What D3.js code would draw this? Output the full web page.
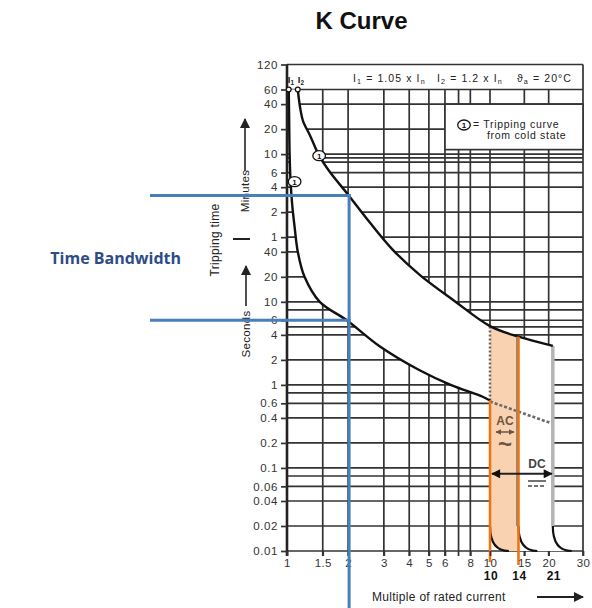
<!DOCTYPE html>
<html><head><meta charset="utf-8">
<script src="https://cdn.jsdelivr.net/npm/d3@7"></script>
<style>body{margin:0;background:#fff} svg{display:block}</style>
</head><body>
<script>
// ---------- data ----------
const minuteTicks = [120, 60, 40, 20, 10, 6, 4, 2, 1];
const secondTicks = [40, 20, 10, 6, 4, 2, 1, 0.6, 0.4, 0.2, 0.1, 0.06, 0.04, 0.02, 0.01];
const extraGridMinutes = [9, 8];
const extraGridSeconds = [8, 5, 0.8, 0.08];
const xTicks = [1, 1.5, 2, 3, 4, 5, 6, 8, 10, 15, 20, 30];
const xGrid = [1.5, 2, 3, 4, 5, 6, 7, 8, 10, 15, 20];
const limitLabels = [10, 14, 21];

// upper tripping curve (I2 side), multiple of In vs seconds
const upperX = [1.13, 1.16, 1.2, 1.3, 1.44, 1.62, 2.0, 2.56, 3.33, 4.52, 6.56, 10, 14, 21];
const upperT = [3600, 2200, 1500, 1000, 575, 370, 195, 90, 42, 21, 10.6, 5.1, 3.8, 2.95];
// lower tripping curve (I1 side)
const lowerX = [1.02, 1.025, 1.03, 1.04, 1.06, 1.09, 1.13, 1.22, 1.45, 1.97, 2.87, 4.5, 6.4, 9.2, 10];
const lowerT = [3600, 1500, 600, 300, 150, 80, 40, 20, 10, 6, 2.9, 1.5, 1.0, 0.72, 0.65];

const acRange = [10, 14];
const dcLimit = 21;
const dashedX = [10, 21];
const dashedT = [0.63, 0.34];
const dcArrowT = 0.085;
const markerX = [1.09, 1.44];
const markerT = [280, 575];
const bandX = 2;          // "Time Bandwidth" reading
const bandT = [190, 6];

// ---------- setup ----------
const W = 592, H = 608;
const FONT = "'Liberation Sans', Arial, sans-serif";
const svg = d3.select("body").append("svg").attr("width", W).attr("height", H);

const x = d3.scaleLog().domain([1, 10, 30]).range([287, 490, 583]);
const y = d3.scaleLog().domain([0.01, 7200]).range([551, 64.5]);

const defs = svg.append("defs");
function arrow(id, color, w, h) {
  defs.append("marker").attr("id", id).attr("viewBox", "0 0 10 10")
    .attr("refX", 9).attr("refY", 5).attr("markerUnits", "userSpaceOnUse")
    .attr("markerWidth", w).attr("markerHeight", h).attr("orient", "auto-start-reverse")
    .append("path").attr("d", "M0,0L10,5L0,10z").attr("fill", color);
}
arrow("ab", "#111", 11, 9);
arrow("ac", "#6e5440", 6, 6);
arrow("ak", "#222", 12, 10);

// title
svg.append("text").attr("x", 361.5).attr("y", 29).attr("text-anchor", "middle")
  .attr("font-family", FONT).attr("font-weight", "bold").attr("font-size", 24)
  .attr("fill", "#111").text("K Curve");

const gridColor = "#333";
const yTop = y(7200), yBot = y(0.01), xLeft = x(1), xRight = x(30);

const hGrid = minuteTicks.concat(extraGridMinutes).map(m => m * 60).concat(secondTicks, extraGridSeconds);
svg.append("g").selectAll("line").data(hGrid).join("line")
  .attr("x1", xLeft).attr("x2", xRight).attr("y1", d => y(d)).attr("y2", d => y(d))
  .attr("stroke", gridColor).attr("stroke-width", 1.7);
svg.append("g").selectAll("line").data(xGrid).join("line")
  .attr("x1", d => x(d)).attr("x2", d => x(d)).attr("y1", y(3600)).attr("y2", yBot + 5)
  .attr("stroke", gridColor).attr("stroke-width", 1.7);
svg.append("line").attr("x1", xRight).attr("x2", xRight).attr("y1", yTop).attr("y2", yBot + 5)
  .attr("stroke", gridColor).attr("stroke-width", 1.7);

// legend box
svg.append("rect").attr("x", x(6)).attr("y", y(2400)).attr("width", xRight - x(6))
  .attr("height", y(680) - y(2400)).attr("fill", "#fff").attr("stroke", gridColor).attr("stroke-width", 1.7);

// ---------- band between curves ----------
const upperPts = upperX.map((v, i) => [v, upperT[i]]);
const lowerPts = lowerX.map((v, i) => [v, lowerT[i]]);
const lineGen = d3.line().x(d => x(d[0])).y(d => y(d[1])).curve(d3.curveCatmullRom.alpha(0.5));
const spread = 1.25;
const lowEnd = lowerT[lowerT.length - 1];
const bandPath = lineGen(upperPts)
  + `L${x(dcLimit)},${y(0.02)}Q${x(dcLimit)},${y(0.01)} ${x(dcLimit * spread)},${y(0.01)}`
  + `L${x(acRange[0] * spread)},${y(0.01)}Q${x(acRange[0])},${y(0.01)} ${x(acRange[0])},${y(0.02)}`
  + `L${x(acRange[0])},${y(lowEnd)}`
  + lineGen(lowerPts.slice().reverse()).replace(/^M/, "L") + "Z";
defs.append("clipPath").attr("id", "band").append("path").attr("d", bandPath);
svg.append("path").attr("d", bandPath).attr("fill", "#fff");
svg.append("rect").attr("x", x(acRange[0])).attr("y", yTop).attr("width", x(acRange[1]) - x(acRange[0]))
  .attr("height", yBot - yTop).attr("fill", "#F9D2B1").attr("clip-path", "url(#band)");

// dashed continuation and dotted vertical
svg.append("line").attr("x1", x(dashedX[0])).attr("y1", y(dashedT[0])).attr("x2", x(dashedX[1])).attr("y2", y(dashedT[1]))
  .attr("stroke", "#6a6a6a").attr("stroke-width", 2.6).attr("stroke-dasharray", "3,2");
svg.append("line").attr("x1", x(acRange[0])).attr("x2", x(acRange[0])).attr("y1", y(lowEnd)).attr("y2", y(upperT[upperX.indexOf(10)]))
  .attr("stroke", "#6a6a6a").attr("stroke-width", 2.6).attr("stroke-dasharray", "2,2");

// DC limit grey line
svg.append("line").attr("x1", x(dcLimit)).attr("x2", x(dcLimit)).attr("y1", y(upperT[upperT.length - 1])).attr("y2", y(0.02))
  .attr("stroke", "#b4b4b4").attr("stroke-width", 3.5);
// bottom bends
svg.append("g").selectAll("path").data([acRange[0], acRange[1], dcLimit]).join("path")
  .attr("d", v => `M${x(v)},${y(0.02)}Q${x(v)},${y(0.01)} ${x(v * spread)},${y(0.01)}`)
  .attr("fill", "none").attr("stroke", "#111").attr("stroke-width", 2.2);

// curves
svg.append("path").attr("d", lineGen(upperPts)).attr("fill", "none").attr("stroke", "#111").attr("stroke-width", 2.4);
svg.append("path").attr("d", lineGen(lowerPts)).attr("fill", "none").attr("stroke", "#111").attr("stroke-width", 2.4);

// AC orange lines
svg.append("line").attr("x1", x(acRange[1]) - 1.5).attr("x2", x(acRange[1]) - 1.5).attr("y1", y(upperT[upperX.indexOf(14)])).attr("y2", y(0.02))
  .attr("stroke", "#8a8a8a").attr("stroke-width", 2);
svg.append("line").attr("x1", x(acRange[0])).attr("x2", x(acRange[0])).attr("y1", y(lowEnd)).attr("y2", yBot + 11)
  .attr("stroke", "#EF7412").attr("stroke-width", 2.6);
svg.append("line").attr("x1", x(acRange[1])).attr("x2", x(acRange[1])).attr("y1", y(upperT[upperX.indexOf(14)])).attr("y2", yBot + 14)
  .attr("stroke", "#EF7412").attr("stroke-width", 2.6);

// left axis line
svg.append("line").attr("x1", xLeft).attr("x2", xLeft).attr("y1", yTop).attr("y2", yBot + 5)
  .attr("stroke", "#222").attr("stroke-width", 2.6);

// curve top circles
svg.append("g").selectAll("circle").data([lowerPts[0], upperPts[0]]).join("circle")
  .attr("cx", d => x(d[0])).attr("cy", d => y(d[1])).attr("r", 2.4)
  .attr("fill", "#fff").attr("stroke", "#111").attr("stroke-width", 1.2);

// ① markers
function circ1(cx, cy) {
  const g = svg.append("g");
  g.append("ellipse").attr("cx", cx).attr("cy", cy).attr("rx", 6.3).attr("ry", 5)
    .attr("fill", "#fff").attr("stroke", "#111").attr("stroke-width", 1.3);
  g.append("text").attr("x", cx).attr("y", cy + 3).attr("text-anchor", "middle")
    .attr("font-family", FONT).attr("font-size", 8).attr("font-weight", "bold").attr("fill", "#111").text("1");
}
markerX.forEach((v, i) => circ1(x(v), y(markerT[i])));
circ1(464, 125);

// ---------- axes ----------
const yLabel = new Map();
minuteTicks.forEach(m => yLabel.set(m * 60, String(m)));
secondTicks.forEach(s => yLabel.set(s, String(s)));
const yAxis = svg.append("g").attr("transform", `translate(${xLeft},0)`)
  .call(d3.axisLeft(y).tickValues(Array.from(yLabel.keys())).tickFormat(d => yLabel.get(d)).tickSize(6).tickPadding(3));
yAxis.select(".domain").remove();
yAxis.selectAll("line").attr("stroke", gridColor).attr("stroke-width", 1.7);
yAxis.selectAll("text").attr("font-family", FONT).attr("font-size", 11.5).attr("letter-spacing", 0.6).attr("fill", "#333");

const xAxis = svg.append("g").attr("transform", `translate(0,${yBot})`)
  .call(d3.axisBottom(x).tickValues(xTicks).tickFormat(d => String(d)).tickSize(5).tickPadding(3));
xAxis.select(".domain").remove();
xAxis.selectAll("line").attr("stroke", gridColor).attr("stroke-width", 1.7);
xAxis.selectAll("text").attr("font-family", FONT).attr("font-size", 11.5).attr("letter-spacing", 0.4).attr("fill", "#333");

svg.append("g").selectAll("text").data(limitLabels).join("text")
  .attr("x", d => x(d) + 1).attr("y", 580).attr("text-anchor", "middle")
  .attr("font-family", FONT).attr("font-weight", "bold").attr("font-size", 12).attr("letter-spacing", 0.5)
  .attr("fill", "#111").text(d => d);

svg.append("text").attr("x", 372).attr("y", 601).attr("font-family", FONT).attr("font-size", 12)
  .attr("letter-spacing", 0.3).attr("fill", "#222").text("Multiple of rated current");
svg.append("line").attr("x1", 537).attr("x2", 583).attr("y1", 597).attr("y2", 597)
  .attr("stroke", "#222").attr("stroke-width", 1.8).attr("marker-end", "url(#ak)");

// rotated y titles
function vtext(cx, cy, txt, size) {
  svg.append("text").attr("transform", `translate(${cx},${cy}) rotate(-90)`)
    .attr("text-anchor", "middle").attr("dominant-baseline", "central")
    .attr("font-family", FONT).attr("font-size", size).attr("letter-spacing", 0.3).attr("fill", "#222").text(txt);
}
vtext(215, 240, "Tripping time", 12);
vtext(245, 191, "Minutes", 11.5);
vtext(246, 334, "Seconds", 11.5);
svg.append("line").attr("x1", 245).attr("x2", 245).attr("y1", 171).attr("y2", 119)
  .attr("stroke", "#222").attr("stroke-width", 1.6).attr("marker-end", "url(#ak)");
svg.append("line").attr("x1", 246).attr("x2", 246).attr("y1", 306).attr("y2", 266)
  .attr("stroke", "#222").attr("stroke-width", 1.6).attr("marker-end", "url(#ak)");
svg.append("line").attr("x1", 233).attr("x2", 250).attr("y1", 239).attr("y2", 239)
  .attr("stroke", "#222").attr("stroke-width", 2);

// header texts
function subText(xp, yp, parts, size, ls) {
  const t = svg.append("text").attr("x", xp).attr("y", yp).attr("font-family", FONT)
    .attr("font-size", size).attr("letter-spacing", ls).attr("fill", "#222");
  parts.forEach(p => {
    if (p.sub) t.append("tspan").attr("font-size", size * 0.68).attr("dy", 2).text(p.t);
    else t.append("tspan").attr("dy", p.up ? -2 : 0).text(p.t);
  });
  return t;
}
subText(353, 82, [{t: "I"}, {t: "1", sub: 1}, {t: " = 1.05 x I", up: 1}, {t: "n", sub: 1}], 10.5, 1.1);
subText(437, 82, [{t: "I"}, {t: "2", sub: 1}, {t: " = 1.2 x I", up: 1}, {t: "n", sub: 1}], 10.5, 1.1);
subText(517, 82, [{t: "\u03D1"}, {t: "a", sub: 1}, {t: " = 20°C", up: 1}], 10.5, 1.1);
subText(x(1.02) - 1, 83, [{t: "I"}, {t: "1", sub: 1}], 9.5, 0).attr("font-weight", "bold");
subText(x(1.13), 83, [{t: "I"}, {t: "2", sub: 1}], 9.5, 0).attr("font-weight", "bold");

// legend texts
svg.append("text").attr("x", 473).attr("y", 128).attr("font-family", FONT).attr("font-size", 10.5)
  .attr("letter-spacing", 0.7).attr("fill", "#222").text("= Tripping curve");
svg.append("text").attr("x", 487).attr("y", 139).attr("font-family", FONT).attr("font-size", 10.5)
  .attr("letter-spacing", 0.7).attr("fill", "#222").text("from cold state");

// AC / DC annotations
const acC = "#6e5440";
svg.append("text").attr("x", 505).attr("y", 425).attr("text-anchor", "middle").attr("font-family", FONT)
  .attr("font-weight", "bold").attr("font-size", 12).attr("fill", acC).text("AC");
svg.append("line").attr("x1", 496).attr("x2", 514).attr("y1", 432).attr("y2", 432)
  .attr("stroke", acC).attr("stroke-width", 1.5).attr("marker-start", "url(#ac)").attr("marker-end", "url(#ac)");
svg.append("text").attr("x", 505).attr("y", 452).attr("text-anchor", "middle").attr("font-family", FONT)
  .attr("font-weight", "bold").attr("font-size", 24).attr("fill", acC).text("~");
svg.append("text").attr("x", 537).attr("y", 468).attr("text-anchor", "middle").attr("font-family", FONT)
  .attr("font-weight", "bold").attr("font-size", 12).attr("fill", "#444").text("DC");
svg.append("line").attr("x1", x(acRange[0]) + 2).attr("x2", x(dcLimit) - 1).attr("y1", y(dcArrowT)).attr("y2", y(dcArrowT))
  .attr("stroke", "#222").attr("stroke-width", 2).attr("marker-start", "url(#ab)").attr("marker-end", "url(#ab)");
svg.append("line").attr("x1", 528).attr("x2", 546).attr("y1", 481).attr("y2", 481).attr("stroke", "#444").attr("stroke-width", 1.5);
svg.append("line").attr("x1", 528).attr("x2", 546).attr("y1", 486).attr("y2", 486).attr("stroke", "#444")
  .attr("stroke-width", 1.5).attr("stroke-dasharray", "4,2");

// ---------- Time Bandwidth ----------
const blue = "#4A7EBB";
const bx = x(bandX) + 1;
svg.append("g").selectAll("line").data(bandT).join("line")
  .attr("x1", 150).attr("x2", bx + 1.5).attr("y1", d => y(d)).attr("y2", d => y(d))
  .attr("stroke", blue).attr("stroke-width", 3);
svg.append("line").attr("x1", bx).attr("x2", bx).attr("y1", y(bandT[0]) - 1.5).attr("y2", H)
  .attr("stroke", blue).attr("stroke-width", 3);
svg.append("text").attr("x", 181).attr("y", 264).attr("text-anchor", "end")
  .attr("font-family", "'Open Sans', sans-serif").attr("font-weight", "bold").attr("font-size", 16)
  .attr("fill", "#2E4C86").text("Time Bandwidth");
</script>
</body></html>
